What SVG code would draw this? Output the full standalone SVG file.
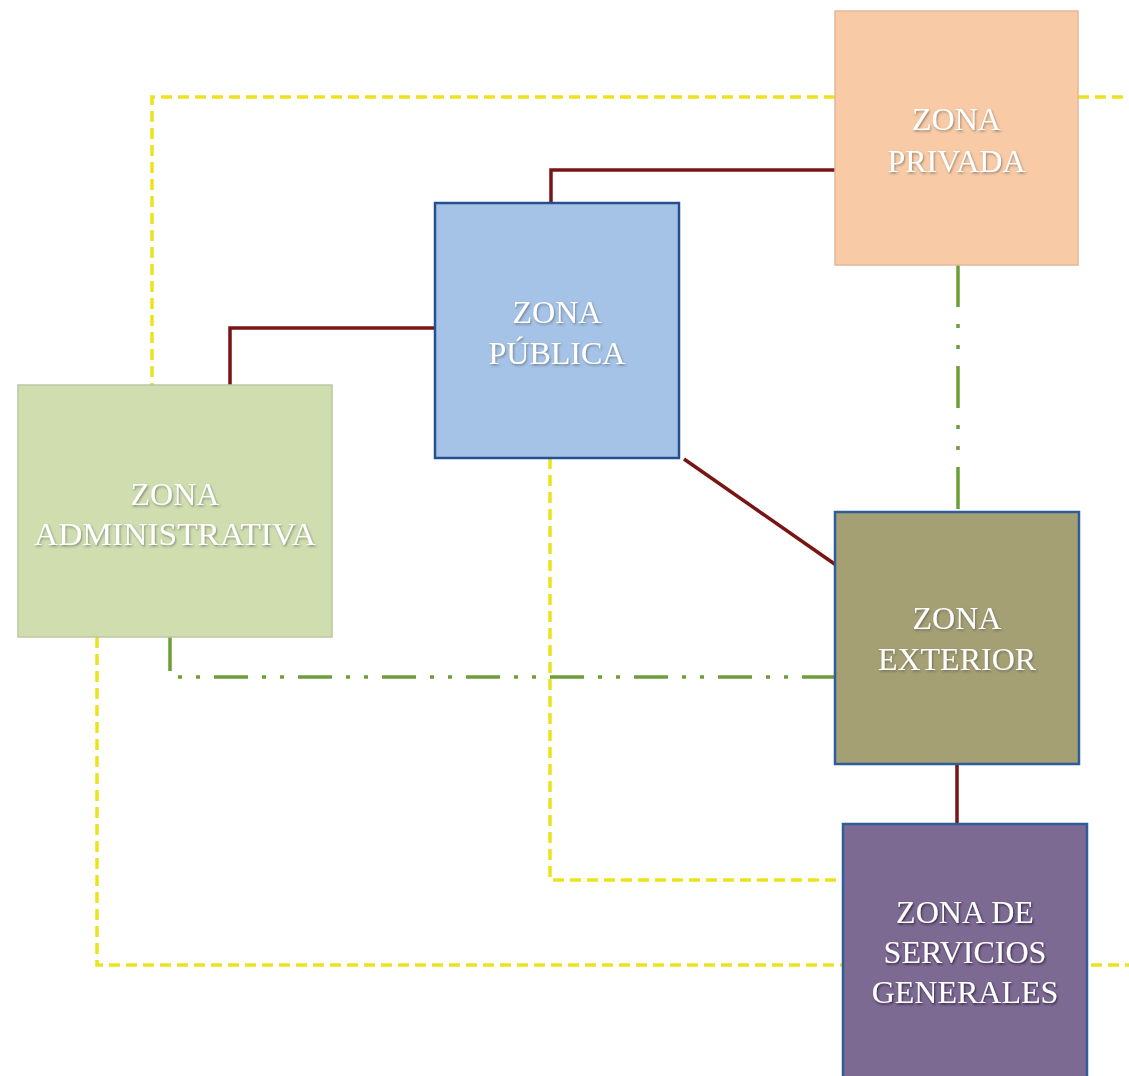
<svg xmlns="http://www.w3.org/2000/svg" width="1129" height="1076" viewBox="0 0 1129 1076">
<style>
.node text{font-family:"Liberation Serif","Times New Roman",serif;font-size:32px;fill:#ffffff;text-anchor:middle}
.red{fill:none;stroke:#7A1414;stroke-width:3.5}
.green{fill:none;stroke:#6E9E3A;stroke-width:3.5}
.yellow{fill:none;stroke:#ECE31E;stroke-width:3.5;stroke-dasharray:11 6}
</style>
<defs>
<filter id="sh" x="-10%" y="-30%" width="120%" height="160%">
<feDropShadow dx="1" dy="1.5" stdDeviation="1" flood-color="#4a4a4a" flood-opacity="0.55"/>
</filter>
<filter id="shd" x="-10%" y="-30%" width="120%" height="160%">
<feDropShadow dx="1" dy="1.5" stdDeviation="1.2" flood-color="#2a1f38" flood-opacity="0.9"/>
</filter>
</defs>
<rect width="1129" height="1076" fill="#ffffff"/>
<g id="connectors">
<path class="red" d="M835 170 H551 V203"/>
<path class="red" d="M435 328 H230 V385"/>
<path class="red" d="M684 459 L836 565"/>
<path class="red" d="M957 764 V824"/>
<path class="green" d="M958 265 V511" style="stroke-dasharray:42 17 4 17 4 17"/>
<path class="green" d="M170 637 V677 H835" style="stroke-dasharray:34 14 4 14 4 14"/>
<path class="yellow" d="M835 97 H152 V385"/>
<path class="yellow" d="M1078 97 H1132 V965 H1087"/>
<path class="yellow" d="M550 458 V880 H843"/>
<path class="yellow" d="M97 637 V965 H843"/>
</g>
<g id="zona-privada" class="node">
<rect x="835" y="11" width="243" height="254" fill="#F8CBA6" stroke="#E3B898" stroke-width="1.5"/>
<text x="956.5" y="130" filter="url(#sh)">ZONA</text>
<text x="956.5" y="172" filter="url(#sh)">PRIVADA</text>
</g>
<g id="zona-publica" class="node">
<rect x="435" y="203" width="244" height="255" fill="#A5C3E7" stroke="#24508F" stroke-width="2.5"/>
<text x="557" y="323" filter="url(#sh)">ZONA</text>
<text x="557" y="364" filter="url(#sh)">PÚBLICA</text>
</g>
<g id="zona-administrativa" class="node">
<rect x="18" y="385" width="314" height="252" fill="#CFDDAF" stroke="#BCC8A2" stroke-width="1.5"/>
<text x="175" y="505" filter="url(#sh)">ZONA</text>
<text x="175" y="545" filter="url(#sh)" textLength="282" lengthAdjust="spacingAndGlyphs">ADMINISTRATIVA</text>
</g>
<g id="zona-exterior" class="node">
<rect x="835" y="512" width="244" height="252" fill="#A59F74" stroke="#2F5D99" stroke-width="2.5"/>
<text x="957" y="629" filter="url(#sh)">ZONA</text>
<text x="957" y="670" filter="url(#sh)">EXTERIOR</text>
</g>
<g id="zona-servicios-generales" class="node">
<rect x="843" y="824" width="244" height="260" fill="#7D6A93" stroke="#2F5D99" stroke-width="2.5"/>
<text x="965" y="923" filter="url(#shd)">ZONA DE</text>
<text x="965" y="963" filter="url(#shd)">SERVICIOS</text>
<text x="965" y="1003" filter="url(#shd)">GENERALES</text>
</g>
</svg>
